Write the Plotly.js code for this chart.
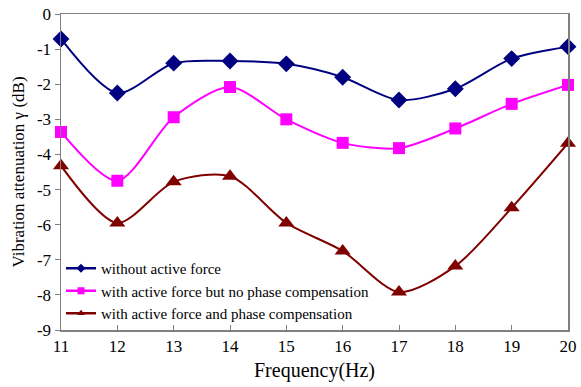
<!DOCTYPE html>
<html><head><meta charset="utf-8">
<script src="https://cdn.plot.ly/plotly-3.0.1.min.js"></script>
<style>html,body{margin:0;padding:0;background:#fff;}#c{width:581px;height:387px;}</style>
</head><body><div id="c"></div>
<script>
const freq = [11,12,13,14,15,16,17,18,19,20];
const withoutForce = [-0.71,-2.25,-1.4,-1.34,-1.42,-1.8,-2.45,-2.13,-1.27,-0.93];
const noPhaseComp = [-3.36,-4.75,-2.94,-2.08,-3.0,-3.67,-3.82,-3.26,-2.56,-2.02];
const phaseComp = [-4.32,-5.95,-4.78,-4.62,-5.95,-6.75,-7.92,-7.18,-5.52,-3.68];
const names = ["without active force","with active force but no phase compensation","with active force and phase compensation"];
const yTickVals = [0,-1,-2,-3,-4,-5,-6,-7,-8,-9];
const yTickText = ["0","-1","-2","-3","-4","-5","-6","-7","-8","-9"];
const font = "Liberation Serif, Times New Roman, serif";
const colors = ['#000080','#FF00FF','#800000'];
const symbols = ['diamond','square','triangle-up'];
const sizes = [13,12,14];
const series = [withoutForce,noPhaseComp,phaseComp];
const data = [];
series.forEach((y,i)=>{
  data.push({x:freq,y:y,name:names[i],type:'scatter',mode:'lines+markers',cliponaxis:false,showlegend:false,
    line:{color:colors[i],width:2,shape:'spline',smoothing:0.8},
    marker:{color:colors[i],symbol:symbols[i],size:sizes[i]}});
});
series.forEach((y,i)=>{
  data.push({x:[null],y:[null],name:names[i],type:'scatter',mode:'lines+markers',showlegend:true,
    line:{color:colors[i],width:2.5},marker:{color:colors[i],symbol:symbols[i],size:7}});
});
const layout={width:581,height:387,margin:{l:61,r:13,t:14,b:57},
  paper_bgcolor:'#fff',plot_bgcolor:'#fff',font:{family:font,color:'#000',size:16},
  showlegend:true,
  legend:{x:0.0,y:0.0,xanchor:'left',yanchor:'bottom',bgcolor:'rgba(0,0,0,0)',font:{family:font,size:15},tracegroupgap:0,itemwidth:30},
  xaxis:{range:[11,20],dtick:1,tick0:11,ticks:'inside',ticklen:5,tickcolor:'#808080',showline:true,linecolor:'#808080',linewidth:1.5,mirror:true,showgrid:false,zeroline:false,
    tickfont:{family:font,size:17},title:{text:'Frequency(Hz)',font:{family:font,size:20},standoff:8}},
  yaxis:{range:[-9,0],tickmode:'array',tickvals:yTickVals,ticktext:yTickText,ticks:'outside',ticklen:5,tickcolor:'#808080',showline:true,linecolor:'#808080',linewidth:1.5,mirror:true,showgrid:false,zeroline:false,
    tickfont:{family:font,size:17},title:{text:'Vibration attenuation γ (dB)',font:{family:font,size:17},standoff:8}}
};
Plotly.newPlot('c',data,layout,{displayModeBar:false,staticPlot:true});
</script></body></html>
